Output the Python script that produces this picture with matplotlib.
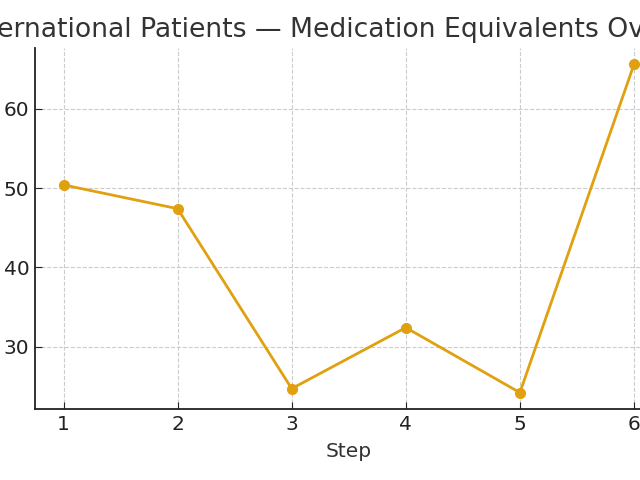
import matplotlib
matplotlib.use("Agg")
import matplotlib.pyplot as plt

steps = [1, 2, 3, 4, 5, 6]
values = [50.4, 47.4, 24.7, 32.4, 24.2, 65.6]
title = "International Patients — Medication Equivalents Over Time"

fig = plt.figure(figsize=(6.4, 4.8), dpi=100)
W, H = 640, 480
left, right, top, bottom = 35, 662.5, 48, 409
ax = fig.add_axes([left / W, 1 - bottom / H, (right - left) / W, (bottom - top) / H])

ax.plot(steps, values, color="#E0A010", linewidth=2, marker="o", markersize=7)
ax.set_xticks(steps)
ax.set_yticks([30, 40, 50, 60])
ax.grid(True, linestyle="--", color="#cccccc", linewidth=0.8)
for s in ["top", "right"]:
    ax.spines[s].set_visible(False)
for s in ["left", "bottom"]:
    ax.spines[s].set_color("#222222")
    ax.spines[s].set_linewidth(1.3)
ax.tick_params(direction="in", labelsize=14.5, colors="#222222", length=5, pad=4)
ax.set_xlabel("Step", fontsize=14.5, color="#333333", labelpad=6)
ax.set_title(title, fontsize=19.2, color="#333333", pad=8, x=0.5 + 5 / (right - left))

fig.savefig("out.png", dpi=100)
